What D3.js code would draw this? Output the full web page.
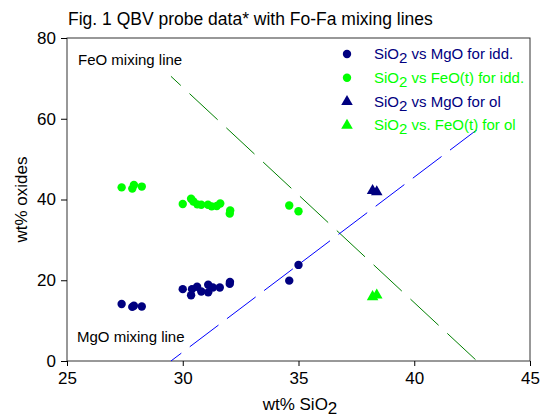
<!DOCTYPE html>
<html lang="en">
<head>
  <meta charset="UTF-8">
  <title>QBV probe data</title>
  <script src="https://d3js.org/d3.v7.min.js"></script>
  <style>
    body {
      margin: 0;
      background: #fff;
      font-family: Arial, "Liberation Sans", sans-serif;
    }
    .axis text {
      font-size: 17px;
      fill: #000;
    }
    .axis path, .axis line {
      stroke: #000;
    }
  </style>
</head>
<body>
<svg id="chart" width="541" height="419"></svg>
<script>
  // SiO2 vs MgO / FeO(t) for iddingsite (idd.) and olivine (ol)
  const iddSiO2 = [27.36, 27.82, 27.89, 28.23, 30.0, 30.36, 30.4, 30.62, 30.8, 31.1, 31.1, 31.3, 31.6, 32.04, 32.03, 34.6, 35.0];
  const iddMgO  = [14.1, 13.4, 13.7, 13.5, 17.8, 16.3, 17.8, 18.4, 17.2, 18.9, 17.0, 18.2, 18.2, 19.6, 19.1, 19.9, 23.8];
  const iddFeOSiO2 = [27.36, 27.82, 27.89, 28.23, 30.0, 30.36, 30.46, 30.63, 30.8, 31.09, 31.25, 31.47, 31.62, 32.05, 32.03, 34.6, 35.0];
  const iddFeO     = [43.0, 42.7, 43.6, 43.2, 38.9, 40.2, 39.5, 38.8, 38.7, 38.7, 38.3, 38.4, 39.0, 37.3, 36.5, 38.5, 37.1];
  const olSiO2 = [38.2, 38.38];
  const olMgO  = [42.2, 41.9];
  const olFeO  = [15.9, 16.3];

  // Fo-Fa mixing lines (fayalite end -> forsterite end)
  const mixSiO2 = [29.49, 42.71];
  const mixFeO  = [70.51, 0];
  const mixMgO  = [0, 57.29];

  const xTicks = [25, 30, 35, 40, 45];
  const yTicks = [0, 20, 40, 60, 80];

  const legendItems = [
    { shape: "circle", color: "#000080", text: ["SiO", "2", " vs MgO for idd."] },
    { shape: "circle", color: "#00ff00", text: ["SiO", "2", " vs FeO(t) for idd."] },
    { shape: "triangle", color: "#000080", text: ["SiO", "2", " vs MgO for ol"] },
    { shape: "triangle", color: "#00ff00", text: ["SiO", "2", " vs. FeO(t) for ol"] }
  ];

  const margin = { top: 38, right: 11, bottom: 58, left: 67 };
  const width = 541, height = 419;

  const svg = d3.select("#chart");

  const x = d3.scaleLinear().domain([25, 45]).range([margin.left, width - margin.right]);
  const y = d3.scaleLinear().domain([0, 80]).range([height - margin.bottom, margin.top]);

  // frame
  svg.append("rect")
          .attr("x", x(25)).attr("y", y(80))
          .attr("width", x(45) - x(25)).attr("height", y(0) - y(80))
          .attr("fill", "none").attr("stroke", "#333").attr("stroke-width", 1);

  svg.append("g")
          .attr("class", "axis")
          .attr("transform", `translate(0,${y(0)})`)
          .call(d3.axisBottom(x).tickValues(xTicks).tickSize(5).tickPadding(6).tickSizeOuter(0))
          .call(g => g.select(".domain").remove());

  svg.append("g")
          .attr("class", "axis")
          .attr("transform", `translate(${x(25)},0)`)
          .call(d3.axisLeft(y).tickValues(yTicks).tickSize(6).tickPadding(5).tickSizeOuter(0))
          .call(g => g.select(".domain").remove());

  // mixing lines
  const line = d3.line().x(d => x(d[0])).y(d => y(d[1]));
  svg.append("path")
          .datum(mixSiO2.map((s, i) => [s, mixFeO[i]]))
          .attr("d", line)
          .attr("fill", "none").attr("stroke", "#008000").attr("stroke-width", 1)
          .attr("stroke-dasharray", "38.5,11.8").attr("stroke-dashoffset", 25);
  svg.append("path")
          .datum(mixSiO2.map((s, i) => [s, mixMgO[i]]))
          .attr("d", line)
          .attr("fill", "none").attr("stroke", "#0000ff").attr("stroke-width", 1)
          .attr("stroke-dasharray", "36,10.6").attr("stroke-dashoffset", 23);

  // points
  const pts = svg.append("g");
  pts.selectAll(".fe").data(iddFeOSiO2).join("circle")
          .attr("cx", d => x(d)).attr("cy", (d, i) => y(iddFeO[i])).attr("r", 4.2)
          .attr("fill", "#00ff00");
  pts.selectAll(".mg").data(iddSiO2).join("circle")
          .attr("cx", d => x(d)).attr("cy", (d, i) => y(iddMgO[i])).attr("r", 4.2)
          .attr("fill", "#000080");

  const tri = d3.symbol().type(d3.symbolTriangle).size(58);
  olSiO2.forEach((s, i) => {
    pts.append("path").attr("d", tri).attr("fill", "#000080")
            .attr("transform", `translate(${x(s)},${y(olMgO[i])})`);
    pts.append("path").attr("d", tri).attr("fill", "#00ff00")
            .attr("transform", `translate(${x(s)},${y(olFeO[i])})`);
  });

  // annotations
  svg.append("text").attr("x", 78).attr("y", 65).attr("font-size", 15).text("FeO mixing line");
  svg.append("text").attr("x", 77).attr("y", 342).attr("font-size", 15).text("MgO mixing line");

  // title
  svg.append("text").attr("x", 68).attr("y", 25).attr("font-size", 17.5)
          .text("Fig. 1 QBV probe data* with Fo-Fa mixing lines");

  // axis titles
  const xt = svg.append("text").attr("x", 300).attr("y", 410).attr("text-anchor", "middle").attr("font-size", 17);
  xt.append("tspan").text("wt% SiO");
  xt.append("tspan").attr("dy", 4).text("2");

  svg.append("text")
          .attr("transform", `translate(27,${(y(0) + y(80)) / 2}) rotate(-90)`)
          .attr("text-anchor", "middle").attr("font-size", 17)
          .text("wt% oxides");

  // legend
  const lg = svg.append("g");
  legendItems.forEach((it, i) => {
    const cy = 54 + i * 23.8;
    if (it.shape === "circle") {
      lg.append("circle").attr("cx", 347).attr("cy", cy).attr("r", 4.2).attr("fill", it.color);
    } else {
      lg.append("path").attr("d", tri).attr("fill", it.color).attr("transform", `translate(347,${cy})`);
    }
    const t = lg.append("text").attr("x", 374).attr("y", cy + 5).attr("font-size", 15).attr("fill", it.color);
    t.append("tspan").text(it.text[0]);
    t.append("tspan").attr("dy", 4).text(it.text[1]);
    t.append("tspan").attr("dy", -4).text(it.text[2]);
  });
</script>
</body>
</html>
